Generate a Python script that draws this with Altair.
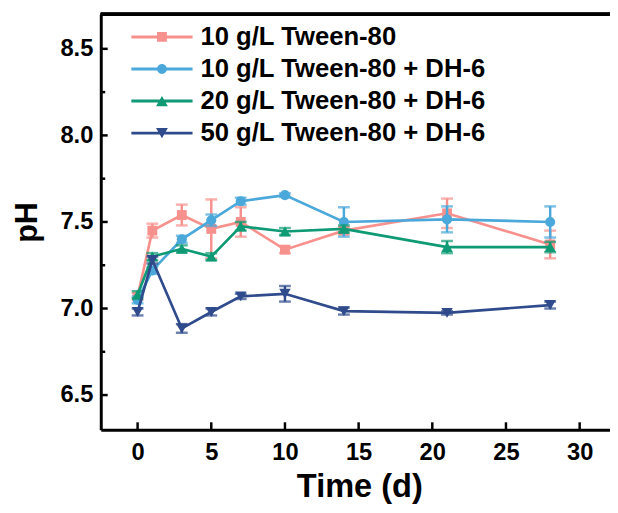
import altair as alt
import pandas as pd

# ---- data ----
days = [0, 1, 3, 5, 7, 10, 14, 21, 28]
series = ["10 g/L Tween-80", "10 g/L Tween-80 + DH-6",
          "20 g/L Tween-80 + DH-6", "50 g/L Tween-80 + DH-6"]
ph_t10 = [7.07, 7.45, 7.54, 7.46, 7.50, 7.34, 7.45, 7.55, 7.37]
err_t10 = [0.02, 0.04, 0.06, 0.17, 0.085, 0.02, 0.02, 0.085, 0.08]
ph_t10dh = [7.05, 7.22, 7.40, 7.51, 7.62, 7.655, 7.50, 7.515, 7.50]
err_t10dh = [0.02, 0.02, 0.02, 0.033, 0.02, 0.01, 0.085, 0.075, 0.09]
ph_t20dh = [7.08, 7.30, 7.345, 7.30, 7.475, 7.445, 7.46, 7.355, 7.355]
err_t20dh = [0.02, 0.02, 0.02, 0.02, 0.025, 0.02, 0.02, 0.035, 0.03]
ph_t50dh = [6.98, 7.28, 6.885, 6.98, 7.07, 7.085, 6.985, 6.975, 7.02]
err_t50dh = [0.02, 0.02, 0.025, 0.02, 0.015, 0.045, 0.02, 0.01, 0.02]

values = [ph_t10, ph_t10dh, ph_t20dh, ph_t50dh]
errors = [err_t10, err_t10dh, err_t20dh, err_t50dh]

colors = ["#F7918D", "#4AA8DA", "#0E9A74", "#2F4B8C"]
marker_shapes = ["square", "circle", "triangle-up", "triangle-down"]
marker_sizes = [100, 105, 135, 135]
legend_paths = [
    "M-6.2,-0.3H6.2V0.3H-6.2Z M-1,-1H1V1H-1Z",
    "M-6.2,-0.3H6.2V0.3H-6.2Z M-1,0A1,1 0 1,1 1,0A1,1 0 1,1 -1,0Z",
    "M-6.2,-0.3H6.2V0.3H-6.2Z M0,-1.05L1.2,1.05L-1.2,1.05Z",
    "M-6.2,-0.3H6.2V0.3H-6.2Z M0,1.05L-1.2,-1.05L1.2,-1.05Z",
]

x_ticks = [0, 5, 10, 15, 20, 25, 30]
y_ticks = [6.5, 7.0, 7.5, 8.0, 8.5]
y_minor = [6.75, 7.25, 7.75, 8.25]

W, H = 516, 421
FONT = "Liberation Sans"

rows = []
for s, vals, errs in zip(series, values, errors):
    for d, v, e in zip(days, vals, errs):
        rows.append({"series": s, "day": d, "pH": v, "lo": v - e, "hi": v + e})
df = pd.DataFrame(rows)

xscale = alt.Scale(domain=[-2.5, 32.06], nice=False, zero=False)
yscale = alt.Scale(domain=[6.3, 8.7], nice=False, zero=False)
xaxis = alt.Axis(values=x_ticks, title="Time (d)", ticks=False, tickSize=0,
                 labelPadding=11, titlePadding=7, titleX=W / 2 + 4, grid=False,
                 domainColor="black", domainWidth=3, labelFontSize=24,
                 titleFontSize=33, labelFlush=False, labelOverlap=False)
yaxis = alt.Axis(values=y_ticks, format=".1f", title="pH", ticks=False, tickSize=0,
                 labelPadding=8, titlePadding=17, grid=False,
                 domainColor="black", domainWidth=3, labelFontSize=24,
                 titleFontSize=31, labelFlush=False, labelOverlap=False)


def X(f):
    return alt.X(f, type="quantitative", scale=xscale, axis=xaxis)


def Y(f):
    return alt.Y(f, type="quantitative", scale=yscale, axis=yaxis)


layers = []
for s, c, shp, sz in zip(series, colors, marker_shapes, marker_sizes):
    sub = df[df["series"] == s]
    base = alt.Chart(sub)
    layers.append(base.mark_rule(color=c, strokeWidth=2.5).encode(
        x=X("day"), y=Y("lo"), y2=alt.Y2("hi")))
    layers.append(base.mark_tick(color=c, orient="horizontal", size=12, thickness=2.5).encode(
        x=X("day"), y=Y("lo")))
    layers.append(base.mark_tick(color=c, orient="horizontal", size=12, thickness=2.5).encode(
        x=X("day"), y=Y("hi")))
    layers.append(base.mark_line(color=c, strokeWidth=2.7).encode(
        x=X("day"), y=Y("pH"), order="day:Q"))
    layers.append(base.mark_point(color=c, shape=shp, size=sz, filled=True, opacity=1).encode(
        x=X("day"), y=Y("pH")))

# inward axis ticks
ymaj = pd.DataFrame({"v": y_ticks})
ymin = pd.DataFrame({"v": y_minor})
xmaj = pd.DataFrame({"v": x_ticks})
layers.append(alt.Chart(ymaj).mark_rule(color="black", strokeWidth=2.5).encode(
    y=Y("v"), x=alt.value(0), x2=alt.value(7)))
layers.append(alt.Chart(ymin).mark_rule(color="black", strokeWidth=2.5).encode(
    y=Y("v"), x=alt.value(0), x2=alt.value(4.5)))
layers.append(alt.Chart(xmaj).mark_rule(color="black", strokeWidth=2.5).encode(
    x=X("v"), y=alt.value(H), y2=alt.value(H - 7.5)))
# top frame line
layers.append(alt.Chart(xmaj).mark_rule(color="black", strokeWidth=3).encode(
    x=alt.value(0), x2=alt.value(W), y=alt.value(0)))

# legend
leg = alt.Legend(title=None, orient="none", legendX=49, legendY=10,
                 labelFont=FONT, labelFontWeight="bold", labelFontSize=26,
                 labelColor="black", labelOffset=26, labelLimit=600,
                 rowPadding=6.5, padding=0, symbolStrokeWidth=0, symbolOpacity=1,
                 symbolSize=100)
legend_df = pd.DataFrame({"series": series})
layers.append(alt.Chart(legend_df).mark_point(filled=True, size=100, clip=True, opacity=1).encode(
    x=alt.value(-300), y=alt.value(-300),
    color=alt.Color("series:N", scale=alt.Scale(domain=series, range=colors), legend=leg),
    shape=alt.Shape("series:N", scale=alt.Scale(domain=series, range=legend_paths), legend=leg),
))

chart = alt.layer(*layers).properties(
    width=W, height=H,
    autosize=alt.AutoSizeParams(type="none"),
    padding={"left": 94, "top": 3, "right": 0, "bottom": 73},
).configure_axis(
    labelFont=FONT, labelFontWeight="bold", labelColor="black",
    titleFont=FONT, titleFontWeight="bold", titleColor="black",
).configure_view(stroke=None)

chart.save("out.html", embed_options={"renderer": "svg", "actions": False})
